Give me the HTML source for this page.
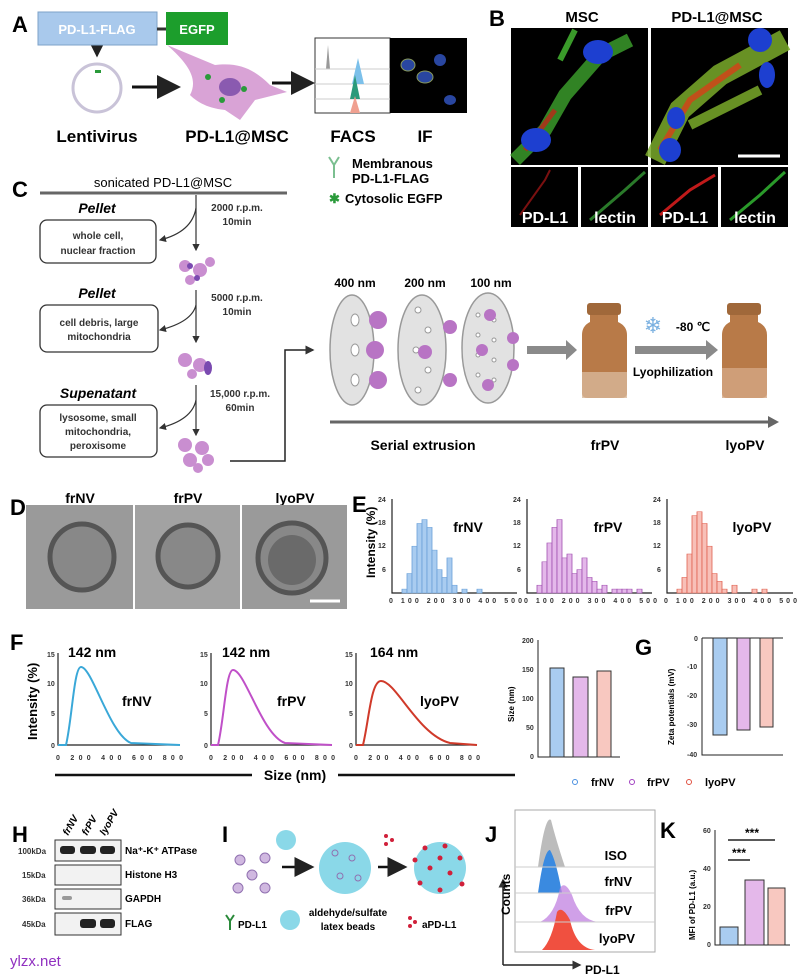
<!DOCTYPE html>
<html><head><meta charset="utf-8"><style>
html,body{margin:0;padding:0;background:#fff}
svg{display:block;font-family:"Liberation Sans",Arial,sans-serif}
.L{font-size:22px;font-weight:bold}
.b{font-weight:bold}
</style></head><body>
<svg width="810" height="976" viewBox="0 0 810 976" xmlns="http://www.w3.org/2000/svg">
<defs>
<marker id="ah" markerWidth="8" markerHeight="8" refX="7" refY="4" orient="auto"><path d="M0,0 L8,4 L0,8 z" fill="#222"/></marker>
<marker id="ahs" markerWidth="6" markerHeight="6" refX="5" refY="3" orient="auto"><path d="M0,0 L6,3 L0,6 z" fill="#333"/></marker>
</defs>
<!-- A -->
<text x="12" y="32" class="L">A</text>
<rect x="38" y="12" width="119" height="33" fill="#a9c9ec" stroke="#7da2c8"/>
<text x="97" y="34" text-anchor="middle" fill="#fff" font-size="13" class="b">PD-L1-FLAG</text>
<line x1="157" y1="29" x2="166" y2="29" stroke="#333" stroke-width="3"/>
<rect x="166" y="12" width="62" height="33" fill="#1c9e2c"/>
<text x="197" y="34" text-anchor="middle" fill="#fff" font-size="13" class="b">EGFP</text>
<path d="M97,48 L97,56" stroke="#222" stroke-width="1.5" marker-end="url(#ah)"/>
<circle cx="97" cy="88" r="24" fill="none" stroke="#c9c3d8" stroke-width="3"/>
<rect x="95" y="70" width="6" height="3" fill="#2a9a3a"/>
<line x1="132" y1="87" x2="178" y2="87" stroke="#111" stroke-width="3" marker-end="url(#ah)"/>
<path d="M167,45 L215,65 C240,62 255,70 270,85 L287,92 L255,100 L240,120 L225,110 C205,108 195,100 190,95 C198,80 190,65 167,45z" fill="#d9a3d6"/>
<ellipse cx="230" cy="87" rx="11" ry="9" fill="#8a5ab0"/>
<circle cx="208" cy="77" r="3" fill="#2a9a3a"/><circle cx="244" cy="89" r="3" fill="#2a9a3a"/><circle cx="222" cy="100" r="3" fill="#2a9a3a"/>
<line x1="272" y1="83" x2="312" y2="83" stroke="#111" stroke-width="3" marker-end="url(#ah)"/>
<rect x="315" y="38" width="75" height="75" fill="#fff" stroke="#333"/>
<rect x="390" y="38" width="77" height="75" fill="#000"/>
<path d="M320,69 L326,69 L328,45 L330,69" fill="#999"/>
<line x1="315" y1="69" x2="390" y2="69" stroke="#ccc"/><line x1="315" y1="84" x2="390" y2="84" stroke="#ccc"/><line x1="315" y1="99" x2="390" y2="99" stroke="#ccc"/>
<path d="M352,84 L358,58 L364,84z" fill="#7cc0ea"/>
<path d="M350,99 L355,75 L360,99z" fill="#2a9a7a"/>
<path d="M350,113 L355,96 L360,113z" fill="#f0a090"/>
<ellipse cx="408" cy="65" rx="7" ry="6" fill="#2946a0" stroke="#8a9a5a"/><ellipse cx="425" cy="77" rx="8" ry="6" fill="#2946a0" stroke="#8a9a5a"/><ellipse cx="440" cy="60" rx="6" ry="6" fill="#2946a0"/><ellipse cx="450" cy="100" rx="6" ry="5" fill="#2946a0"/>
<g font-size="17" class="b" text-anchor="middle"><text x="97" y="142">Lentivirus</text><text x="237" y="142">PD-L1@MSC</text><text x="353" y="142">FACS</text><text x="425" y="142">IF</text></g>
<path d="M329,157 L334,165 L339,157 M334,165 L334,178" stroke="#7bbf90" stroke-width="2" fill="none"/>
<text x="352" y="168" font-size="13" class="b">Membranous</text>
<text x="352" y="183" font-size="13" class="b">PD-L1-FLAG</text>
<text x="329" y="203" font-size="13" fill="#2a9a3a" class="b">✱</text>
<text x="345" y="203" font-size="13" class="b">Cytosolic EGFP</text>
<!-- B -->
<text x="489" y="26" class="L">B</text>
<text x="582" y="22" font-size="15" class="b" text-anchor="middle">MSC</text>
<text x="717" y="22" font-size="15" class="b" text-anchor="middle">PD-L1@MSC</text>
<rect x="511" y="28" width="137" height="137" fill="#000"/>
<rect x="651" y="28" width="137" height="137" fill="#000"/>
<path d="M515,160 L545,130 L565,95 L600,55 L630,40" stroke="#3a9a2a" stroke-width="14" fill="none" opacity=".85"/>
<path d="M560,60 L575,30" stroke="#3a9a2a" stroke-width="6" fill="none"/>
<path d="M525,150 L555,110" stroke="#a03a1a" stroke-width="5" fill="none"/>
<ellipse cx="536" cy="140" rx="15" ry="12" fill="#1d3fd0"/><ellipse cx="598" cy="52" rx="15" ry="12" fill="#1d3fd0"/>
<path d="M655,160 L680,110 L720,75 L785,40" stroke="#7aaa2a" stroke-width="22" fill="none" opacity=".85"/>
<path d="M690,125 L760,90" stroke="#7aaa2a" stroke-width="10" fill="none" opacity=".85"/>
<path d="M660,150 L690,100 L740,65" stroke="#c0501a" stroke-width="6" fill="none"/>
<ellipse cx="670" cy="150" rx="11" ry="12" fill="#1d3fd0"/><ellipse cx="676" cy="118" rx="9" ry="11" fill="#1d3fd0"/><ellipse cx="760" cy="40" rx="12" ry="12" fill="#1d3fd0"/><ellipse cx="767" cy="75" rx="8" ry="13" fill="#1d3fd0"/>
<line x1="738" y1="156" x2="780" y2="156" stroke="#fff" stroke-width="3"/>
<rect x="511" y="167" width="67" height="60" fill="#000"/><rect x="581" y="167" width="67" height="60" fill="#000"/>
<rect x="651" y="167" width="67" height="60" fill="#000"/><rect x="721" y="167" width="67" height="60" fill="#000"/>
<path d="M520,215 L545,180 L550,170" stroke="#7a1010" stroke-width="2" fill="none"/>
<path d="M590,220 L625,190 L645,172" stroke="#2a7a2a" stroke-width="3" fill="none"/>
<path d="M660,215 L690,190 L715,175" stroke="#c01a1a" stroke-width="3" fill="none"/>
<path d="M730,220 L760,195 L785,172" stroke="#2a9a2a" stroke-width="3" fill="none"/>
<g fill="#fff" font-size="16" class="b" text-anchor="middle"><text x="545" y="223">PD-L1</text><text x="615" y="223">lectin</text><text x="685" y="223">PD-L1</text><text x="755" y="223">lectin</text></g>
<!-- C -->
<text x="12" y="197" class="L">C</text>
<text x="163" y="187" font-size="13" text-anchor="middle">sonicated PD-L1@MSC</text>
<line x1="40" y1="193" x2="287" y2="193" stroke="#666" stroke-width="3"/>
<line x1="196" y1="195" x2="196" y2="250" stroke="#333" stroke-width="1.2" marker-end="url(#ahs)"/>
<line x1="196" y1="290" x2="196" y2="342" stroke="#333" stroke-width="1.2" marker-end="url(#ahs)"/>
<line x1="196" y1="385" x2="196" y2="435" stroke="#333" stroke-width="1.2" marker-end="url(#ahs)"/>
<path d="M196,208 Q192,232 160,240" stroke="#333" fill="none" stroke-width="1.2" marker-end="url(#ahs)"/>
<path d="M196,305 Q192,322 160,330" stroke="#333" fill="none" stroke-width="1.2" marker-end="url(#ahs)"/>
<path d="M196,400 Q192,420 160,428" stroke="#333" fill="none" stroke-width="1.2" marker-end="url(#ahs)"/>
<g font-size="14" font-style="italic" class="b" text-anchor="middle"><text x="97" y="213">Pellet</text><text x="97" y="298">Pellet</text><text x="98" y="398">Supenatant</text></g>
<g fill="none" stroke="#333" stroke-width="1.3"><rect x="40" y="220" width="116" height="43" rx="7"/><rect x="40" y="305" width="118" height="47" rx="7"/><rect x="40" y="405" width="117" height="52" rx="7"/></g>
<g font-size="10" class="b" text-anchor="middle" fill="#333"><text x="98" y="239">whole cell,</text><text x="98" y="254">nuclear fraction</text>
<text x="99" y="326">cell debris, large</text><text x="99" y="340">mitochondria</text>
<text x="98" y="421">lysosome, small</text><text x="98" y="435">mitochondria,</text><text x="98" y="449">peroxisome</text></g>
<g font-size="10" class="b" text-anchor="middle" fill="#333"><text x="237" y="211">2000 r.p.m.</text><text x="237" y="225">10min</text>
<text x="237" y="301">5000 r.p.m.</text><text x="237" y="315">10min</text>
<text x="240" y="397">15,000 r.p.m.</text><text x="240" y="411">60min</text></g>
<g fill="#c98ed0"><circle cx="185" cy="266" r="6"/><circle cx="200" cy="270" r="7"/><circle cx="190" cy="280" r="5"/><circle cx="210" cy="262" r="5"/>
<circle cx="185" cy="360" r="7"/><circle cx="200" cy="365" r="7"/><circle cx="192" cy="374" r="5"/>
<circle cx="185" cy="445" r="7"/><circle cx="202" cy="448" r="7"/><circle cx="190" cy="460" r="7"/><circle cx="208" cy="460" r="6"/><circle cx="198" cy="468" r="5"/></g>
<g fill="#7a4ab0"><circle cx="190" cy="266" r="3"/><circle cx="197" cy="278" r="3"/><ellipse cx="208" cy="368" rx="4" ry="7"/></g>
<path d="M230,461 L285,461 L285,350 L313,350" stroke="#222" stroke-width="1.5" fill="none" marker-end="url(#ahs)"/>
<g font-size="12" class="b" text-anchor="middle"><text x="355" y="287">400 nm</text><text x="425" y="287">200 nm</text><text x="491" y="287">100 nm</text></g>
<g fill="#e2e2e2" stroke="#999" stroke-width="1.5"><ellipse cx="352" cy="350" rx="22" ry="55"/><ellipse cx="422" cy="350" rx="24" ry="55"/><ellipse cx="488" cy="348" rx="26" ry="55"/></g>
<g fill="#fff" stroke="#999"><ellipse cx="355" cy="320" rx="4" ry="6"/><ellipse cx="355" cy="350" rx="4" ry="6"/><ellipse cx="355" cy="380" rx="4" ry="6"/>
<circle cx="418" cy="310" r="3"/><circle cx="428" cy="330" r="3"/><circle cx="416" cy="350" r="3"/><circle cx="428" cy="370" r="3"/><circle cx="418" cy="390" r="3"/>
<circle cx="478" cy="315" r="2"/><circle cx="494" cy="320" r="2"/><circle cx="478" cy="335" r="2"/><circle cx="494" cy="340" r="2"/><circle cx="478" cy="355" r="2"/><circle cx="494" cy="360" r="2"/><circle cx="478" cy="375" r="2"/><circle cx="494" cy="380" r="2"/></g>
<g fill="#b874c4"><circle cx="378" cy="320" r="9"/><circle cx="375" cy="350" r="9"/><circle cx="378" cy="380" r="9"/><circle cx="450" cy="327" r="7"/><circle cx="425" cy="352" r="7"/><circle cx="450" cy="380" r="7"/><circle cx="490" cy="315" r="6"/><circle cx="513" cy="338" r="6"/><circle cx="482" cy="350" r="6"/><circle cx="513" cy="365" r="6"/><circle cx="488" cy="385" r="6"/></g>
<path d="M527,346 L566,346 L566,340 L577,350 L566,360 L566,354 L527,354z" fill="#8a8a8a"/>
<g><rect x="587" y="303" width="34" height="12" rx="3" fill="#a0683a"/><path d="M590,315 L618,315 L618,322 Q627,326 627,335 L627,393 Q627,398 621,398 L588,398 Q582,398 582,393 L582,335 Q582,326 590,322z" fill="#b87a48"/><rect x="582" y="372" width="45" height="26" fill="#d8b89a" opacity=".8"/></g>
<text x="653" y="333" font-size="22" fill="#7ab0e0" text-anchor="middle">❄</text>
<text x="693" y="331" font-size="12" class="b" text-anchor="middle">-80 ℃</text>
<path d="M635,346 L706,346 L706,340 L718,350 L706,360 L706,354 L635,354z" fill="#8a8a8a"/>
<text x="673" y="376" font-size="12" class="b" text-anchor="middle">Lyophilization</text>
<g><rect x="727" y="303" width="34" height="12" rx="3" fill="#a0683a"/><path d="M730,315 L758,315 L758,322 Q767,326 767,335 L767,393 Q767,398 761,398 L728,398 Q722,398 722,393 L722,335 Q722,326 730,322z" fill="#b87a48"/><rect x="722" y="368" width="45" height="30" fill="#d4a884" opacity=".8"/></g>
<line x1="330" y1="422" x2="770" y2="422" stroke="#666" stroke-width="3"/><path d="M768,416 L779,422 L768,428z" fill="#666"/>
<g font-size="14" class="b" text-anchor="middle"><text x="423" y="450">Serial extrusion</text><text x="605" y="450">frPV</text><text x="745" y="450">lyoPV</text></g>
<!-- D -->
<text x="10" y="515" class="L">D</text>
<g font-size="14" class="b" text-anchor="middle"><text x="80" y="503">frNV</text><text x="188" y="503">frPV</text><text x="295" y="503">lyoPV</text></g>
<rect x="26" y="505" width="107" height="104" fill="#9a9a9a"/><rect x="135" y="505" width="105" height="104" fill="#a2a2a2"/><rect x="242" y="505" width="105" height="104" fill="#9a9a9a"/>
<g fill="#888" stroke="#555" stroke-width="5"><ellipse cx="82" cy="557" rx="32" ry="33"/><ellipse cx="188" cy="556" rx="30" ry="31"/><ellipse cx="292" cy="558" rx="34" ry="35"/></g>
<ellipse cx="292" cy="560" rx="24" ry="25" fill="#6a6a6a"/>
<line x1="310" y1="601" x2="340" y2="601" stroke="#fff" stroke-width="3"/>
<!-- E -->
<text x="352" y="512" class="L">E</text>
<g stroke="#222" fill="none" stroke-width="1.2"><path d="M392,499 L392,593 L517,593"/><path d="M527,499 L527,593 L652,593"/><path d="M667,499 L667,593 L793,593"/></g>
<g font-size="7" fill="#333" class="b">
<text x="378" y="502">24</text><text x="378" y="525">18</text><text x="378" y="548">12</text><text x="382" y="572">6</text>
<text x="513" y="502">24</text><text x="513" y="525">18</text><text x="513" y="548">12</text><text x="517" y="572">6</text>
<text x="653" y="502">24</text><text x="653" y="525">18</text><text x="653" y="548">12</text><text x="657" y="572">6</text>
<text x="389" y="603" textLength="133">0 100 200 300 400 500</text><text x="524" y="603" textLength="133">0 100 200 300 400 500</text><text x="664" y="603" textLength="133">0 100 200 300 400 500</text>
</g>
<text transform="translate(375,578) rotate(-90)" font-size="12" class="b">Intensity (%)</text>
<g font-size="14" class="b" text-anchor="middle"><text x="468" y="532">frNV</text><text x="608" y="532">frPV</text><text x="752" y="532">lyoPV</text></g>
<g transform="translate(402,593) scale(1,0.65)" fill="#a9ccf0" stroke="#6aa0d8" stroke-width=".8">
<rect x="0" y="-6" width="5" height="6"/><rect x="5" y="-30" width="5" height="30"/><rect x="10" y="-72" width="5" height="72"/><rect x="15" y="-107" width="5" height="107"/><rect x="20" y="-113" width="5" height="113"/><rect x="25" y="-101" width="5" height="101"/><rect x="30" y="-66" width="5" height="66"/><rect x="35" y="-36" width="5" height="36"/><rect x="40" y="-24" width="5" height="24"/><rect x="45" y="-54" width="5" height="54"/><rect x="50" y="-12" width="5" height="12"/><rect x="60" y="-6" width="5" height="6"/><rect x="75" y="-6" width="5" height="6"/></g>
<g transform="translate(537,593) scale(1,0.65)" fill="#e4b8ea" stroke="#a050b0" stroke-width=".8">
<rect x="0" y="-12" width="5" height="12"/><rect x="5" y="-48" width="5" height="48"/><rect x="10" y="-77" width="5" height="77"/><rect x="15" y="-101" width="5" height="101"/><rect x="20" y="-113" width="5" height="113"/><rect x="25" y="-54" width="5" height="54"/><rect x="30" y="-60" width="5" height="60"/><rect x="35" y="-30" width="5" height="30"/><rect x="40" y="-36" width="5" height="36"/><rect x="45" y="-54" width="5" height="54"/><rect x="50" y="-24" width="5" height="24"/><rect x="55" y="-18" width="5" height="18"/><rect x="60" y="-6" width="5" height="6"/><rect x="65" y="-12" width="5" height="12"/><rect x="75" y="-6" width="5" height="6"/><rect x="80" y="-6" width="5" height="6"/><rect x="85" y="-6" width="5" height="6"/><rect x="90" y="-6" width="5" height="6"/><rect x="100" y="-6" width="5" height="6"/></g>
<g transform="translate(677,593) scale(1,0.65)" fill="#f8c0b8" stroke="#e06050" stroke-width=".8">
<rect x="0" y="-6" width="5" height="6"/><rect x="5" y="-24" width="5" height="24"/><rect x="10" y="-60" width="5" height="60"/><rect x="15" y="-119" width="5" height="119"/><rect x="20" y="-125" width="5" height="125"/><rect x="25" y="-107" width="5" height="107"/><rect x="30" y="-72" width="5" height="72"/><rect x="35" y="-30" width="5" height="30"/><rect x="40" y="-18" width="5" height="18"/><rect x="45" y="-6" width="5" height="6"/><rect x="55" y="-12" width="5" height="12"/><rect x="75" y="-6" width="5" height="6"/><rect x="85" y="-6" width="5" height="6"/></g>
<!-- F -->
<text x="10" y="650" class="L">F</text>
<g stroke="#222" fill="none" stroke-width="1.2"><path d="M58,653 L58,745 L180,745"/><path d="M211,653 L211,745 L332,745"/><path d="M356,653 L356,745 L477,745"/></g>
<g font-size="7" fill="#333" class="b"><text x="47" y="657">15</text><text x="47" y="686">10</text><text x="51" y="716">5</text><text x="51" y="748">0</text>
<text x="200" y="657">15</text><text x="200" y="686">10</text><text x="204" y="716">5</text><text x="204" y="748">0</text>
<text x="345" y="657">15</text><text x="345" y="686">10</text><text x="349" y="716">5</text><text x="349" y="748">0</text>
<text x="56" y="760" textLength="127">0 200 400 600 800</text><text x="209" y="760" textLength="126">0 200 400 600 800</text><text x="354" y="760" textLength="126">0 200 400 600 800</text></g>
<path d="M58,745 L66,745 C72,720 74,667 81,667 C92,667 110,735 131,743 L180,745" stroke="#3aa8d8" stroke-width="2" fill="none"/>
<path d="M211,745 L218,745 C224,720 226,670 233,670 C245,670 262,735 285,743 L332,745" stroke="#c050c8" stroke-width="2" fill="none"/>
<path d="M356,745 L363,745 C369,720 371,681 381,681 C396,681 418,735 450,743 L477,745" stroke="#d03a2a" stroke-width="2" fill="none"/>
<g font-size="14" class="b"><text x="68" y="657">142 nm</text><text x="222" y="657">142 nm</text><text x="370" y="657">164 nm</text>
<text x="122" y="706">frNV</text><text x="277" y="706">frPV</text><text x="420" y="706">lyoPV</text></g>
<text transform="translate(37,740) rotate(-90)" font-size="13" class="b">Intensity (%)</text>
<line x1="55" y1="775" x2="252" y2="775" stroke="#111" stroke-width="2.5"/><line x1="338" y1="775" x2="515" y2="775" stroke="#111" stroke-width="2.5"/>
<text x="295" y="780" font-size="14" class="b" text-anchor="middle">Size (nm)</text>
<!-- size bars -->
<path d="M538,640 L538,757 L620,757" stroke="#222" fill="none"/>
<g font-size="7" fill="#333" class="b"><text x="522" y="643">200</text><text x="522" y="672">150</text><text x="522" y="701">100</text><text x="526" y="730">50</text><text x="530" y="759">0</text></g>
<text transform="translate(514,722) rotate(-90)" font-size="8" class="b">Size (nm)</text>
<rect x="550" y="668" width="14" height="89" fill="#a9ccf0" stroke="#333"/><rect x="573" y="677" width="15" height="80" fill="#e4b8ea" stroke="#333"/><rect x="597" y="671" width="14" height="86" fill="#f8c8c0" stroke="#333"/>
<!-- G -->
<text x="635" y="655" class="L">G</text>
<path d="M702,638 L702,755 L783,755" stroke="#222" fill="none"/><line x1="702" y1="638" x2="783" y2="638" stroke="#222"/>
<g font-size="7" fill="#333" class="b"><text x="694" y="641">0</text><text x="687" y="669">-10</text><text x="687" y="698">-20</text><text x="687" y="727">-30</text><text x="687" y="757">-40</text></g>
<text transform="translate(674,745) rotate(-90)" font-size="8" class="b">Zeta potentials (mV)</text>
<rect x="713" y="638" width="14" height="97" fill="#a9ccf0" stroke="#333"/><rect x="737" y="638" width="13" height="92" fill="#e4b8ea" stroke="#333"/><rect x="760" y="638" width="13" height="89" fill="#f8c8c0" stroke="#333"/>
<g font-size="11" class="b"><circle cx="575" cy="782" r="2.5" fill="none" stroke="#4a90e0"/><text x="591" y="786">frNV</text>
<circle cx="632" cy="782" r="2.5" fill="none" stroke="#a040c0"/><text x="647" y="786">frPV</text>
<circle cx="689" cy="782" r="2.5" fill="none" stroke="#e05040"/><text x="705" y="786">lyoPV</text></g>
<!-- H -->
<text x="12" y="842" class="L">H</text>
<g font-size="10" font-style="italic" class="b"><text transform="translate(68,836) rotate(-60)">frNV</text><text transform="translate(87,836) rotate(-60)">frPV</text><text transform="translate(105,836) rotate(-60)">lyoPV</text></g>
<g fill="#f2f2f2" stroke="#333"><rect x="55" y="840" width="66" height="21"/><rect x="55" y="865" width="66" height="20"/><rect x="55" y="889" width="66" height="20"/><rect x="55" y="913" width="66" height="22"/></g>
<g fill="#222"><rect x="60" y="846" width="15" height="8" rx="3"/><rect x="80" y="846" width="16" height="8" rx="3"/><rect x="100" y="846" width="15" height="8" rx="3"/><rect x="62" y="896" width="10" height="4" rx="2" fill="#999"/><rect x="80" y="919" width="16" height="9" rx="3"/><rect x="100" y="919" width="15" height="9" rx="3"/></g>
<g font-size="8" class="b" fill="#333"><text x="18" y="854">100kDa</text><text x="22" y="878">15kDa</text><text x="22" y="902">36kDa</text><text x="22" y="927">45kDa</text></g>
<g font-size="10" class="b"><text x="125" y="854">Na⁺-K⁺ ATPase</text><text x="125" y="878">Histone H3</text><text x="125" y="902">GAPDH</text><text x="125" y="927">FLAG</text></g>
<!-- I -->
<text x="222" y="842" class="L">I</text>
<g fill="#d0b8e0" stroke="#9070b0"><circle cx="240" cy="860" r="5"/><circle cx="265" cy="858" r="5"/><circle cx="252" cy="875" r="5"/><circle cx="238" cy="888" r="5"/><circle cx="265" cy="888" r="5"/></g>
<circle cx="286" cy="840" r="10" fill="#8ad8e8"/>
<line x1="282" y1="867" x2="312" y2="867" stroke="#111" stroke-width="2.5" marker-end="url(#ah)"/>
<circle cx="345" cy="868" r="26" fill="#8ad8e8"/>
<g fill="none" stroke="#9070b0"><circle cx="335" cy="853" r="3"/><circle cx="352" cy="858" r="3"/><circle cx="340" cy="876" r="3"/><circle cx="358" cy="878" r="3"/></g>
<g fill="#d0203a"><circle cx="386" cy="836" r="2"/><circle cx="392" cy="840" r="2"/><circle cx="386" cy="844" r="2"/></g>
<line x1="378" y1="867" x2="405" y2="867" stroke="#111" stroke-width="2.5" marker-end="url(#ah)"/>
<circle cx="440" cy="868" r="26" fill="#8ad8e8"/>
<g fill="#d0203a"><circle cx="425" cy="848" r="2.5"/><circle cx="445" cy="846" r="2.5"/><circle cx="460" cy="858" r="2.5"/><circle cx="430" cy="868" r="2.5"/><circle cx="450" cy="873" r="2.5"/><circle cx="420" cy="883" r="2.5"/><circle cx="440" cy="890" r="2.5"/><circle cx="462" cy="884" r="2.5"/><circle cx="415" cy="860" r="2.5"/><circle cx="440" cy="858" r="2.5"/></g>
<path d="M226,915 L230,921 L234,915 M230,921 L230,930" stroke="#2a8a3a" stroke-width="2" fill="none"/>
<text x="238" y="928" font-size="10" class="b">PD-L1</text>
<circle cx="290" cy="920" r="10" fill="#8ad8e8"/>
<g font-size="10" class="b" text-anchor="middle"><text x="348" y="916">aldehyde/sulfate</text><text x="348" y="930">latex beads</text></g>
<g fill="#d0203a"><circle cx="410" cy="918" r="2"/><circle cx="415" cy="922" r="2"/><circle cx="410" cy="926" r="2"/></g>
<text x="422" y="928" font-size="10" class="b">aPD-L1</text>
<!-- J -->
<text x="485" y="842" class="L">J</text>
<rect x="515" y="810" width="140" height="142" fill="none" stroke="#aaa"/>
<line x1="503" y1="965" x2="503" y2="880" stroke="#222" stroke-width="1.5" marker-end="url(#ahs)"/>
<line x1="503" y1="965" x2="580" y2="965" stroke="#222" stroke-width="1.5" marker-end="url(#ahs)"/>
<text transform="translate(510,915) rotate(-90)" font-size="12" class="b">Counts</text>
<text x="585" y="974" font-size="12" class="b">PD-L1</text>
<path d="M525,867 L538,867 Q545,815 551,820 Q556,840 565,867z" fill="#bcbcbc"/>
<path d="M525,893 L538,893 Q544,850 550,850 Q556,860 562,893z" fill="#3a8ae0"/>
<path d="M520,922 L540,922 Q555,915 560,888 Q565,880 572,895 Q580,920 598,922z" fill="#c080e0" opacity=".75"/>
<path d="M520,950 L542,950 Q552,940 557,912 Q562,905 570,920 Q576,948 595,950z" fill="#f05040"/>
<g stroke="#ccc"><line x1="515" y1="867" x2="655" y2="867"/><line x1="515" y1="893" x2="655" y2="893"/><line x1="515" y1="922" x2="655" y2="922"/></g>
<g font-size="13" class="b" text-anchor="end"><text x="627" y="860">ISO</text><text x="632" y="886">frNV</text><text x="632" y="915">frPV</text><text x="635" y="943">lyoPV</text></g>
<!-- K -->
<text x="660" y="838" class="L">K</text>
<path d="M715,830 L715,945 L790,945" stroke="#222" fill="none"/>
<g font-size="7" fill="#333" class="b"><text x="703" y="833">60</text><text x="703" y="871">40</text><text x="703" y="909">20</text><text x="707" y="947">0</text></g>
<text transform="translate(695,940) rotate(-90)" font-size="8" class="b">MFI of PD-L1 (a.u.)</text>
<rect x="720" y="927" width="18" height="18" fill="#a9ccf0" stroke="#333"/><rect x="745" y="880" width="19" height="65" fill="#e4b8ea" stroke="#333"/><rect x="768" y="888" width="17" height="57" fill="#f8c8c0" stroke="#333"/>
<line x1="728" y1="860" x2="750" y2="860" stroke="#222" stroke-width="1.5"/><line x1="728" y1="840" x2="775" y2="840" stroke="#222" stroke-width="1.5"/>
<text x="739" y="857" font-size="12" class="b" text-anchor="middle">***</text><text x="752" y="837" font-size="12" class="b" text-anchor="middle">***</text>
<text x="10" y="966" font-size="15" fill="#9030c0">ylzx.net</text>
</svg>
</body></html>
